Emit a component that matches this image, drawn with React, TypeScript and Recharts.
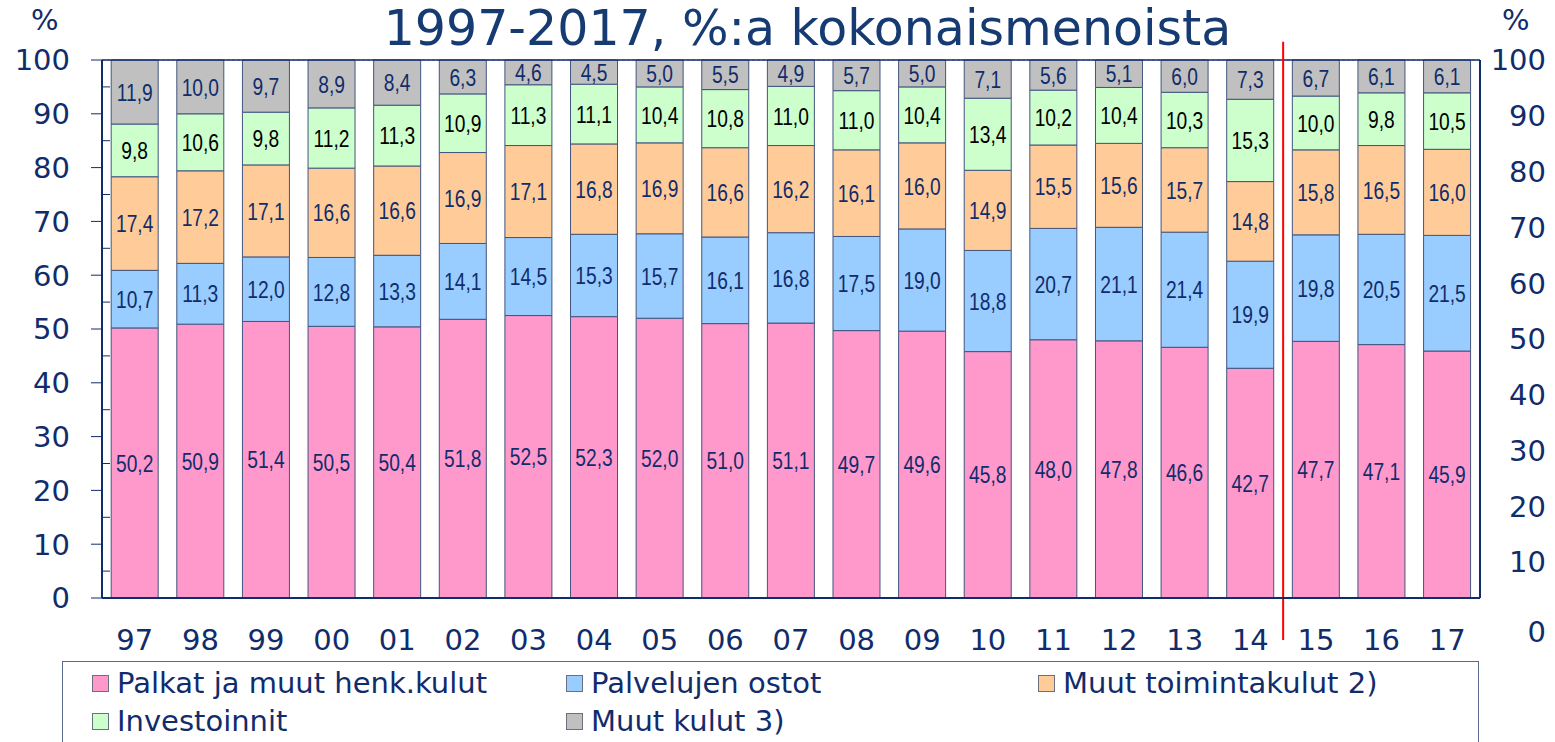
import React from 'react';
import {
  BarChart,
  Bar,
  XAxis,
  YAxis,
  CartesianGrid,
  LabelList,
  ReferenceLine,
} from 'recharts';

const NAVY = '#112c6b';

const YEARS = ['97', '98', '99', '00', '01', '02', '03', '04', '05', '06', '07', '08', '09', '10', '11', '12', '13', '14', '15', '16', '17'];

const PALKAT = [50.2, 50.9, 51.4, 50.5, 50.4, 51.8, 52.5, 52.3, 52.0, 51.0, 51.1, 49.7, 49.6, 45.8, 48.0, 47.8, 46.6, 42.7, 47.7, 47.1, 45.9];
const PALVELUT = [10.7, 11.3, 12.0, 12.8, 13.3, 14.1, 14.5, 15.3, 15.7, 16.1, 16.8, 17.5, 19.0, 18.8, 20.7, 21.1, 21.4, 19.9, 19.8, 20.5, 21.5];
const TOIMINTA = [17.4, 17.2, 17.1, 16.6, 16.6, 16.9, 17.1, 16.8, 16.9, 16.6, 16.2, 16.1, 16.0, 14.9, 15.5, 15.6, 15.7, 14.8, 15.8, 16.5, 16.0];
const INVESTOINNIT = [9.8, 10.6, 9.8, 11.2, 11.3, 10.9, 11.3, 11.1, 10.4, 10.8, 11.0, 11.0, 10.4, 13.4, 10.2, 10.4, 10.3, 15.3, 10.0, 9.8, 10.5];
const MUUT = [11.9, 10.0, 9.7, 8.9, 8.4, 6.3, 4.6, 4.5, 5.0, 5.5, 4.9, 5.7, 5.0, 7.1, 5.6, 5.1, 6.0, 7.3, 6.7, 6.1, 6.1];

const LEFT_TICKS = [0, 5, 10, 15, 20, 25, 30, 35, 40, 45, 50, 55, 60, 65, 70, 75, 80, 85, 90, 95, 100];
const GRID_TICKS = [10, 20, 30, 40, 50, 60, 70, 80, 90];
// right scale in the original is drawn a bit taller than the plot; 0 sits below it
const RIGHT_MIN = 3.55;
const RIGHT_TICKS = [RIGHT_MIN, 10, 20, 30, 40, 50, 60, 70, 80, 90, 100];
const BOUNDARY_TICKS = [...YEARS.map((_, i) => i), YEARS.length];
const FORECAST_START = 18;

const SERIES = [
  { key: 'palkat', name: 'Palkat ja muut henk.kulut', values: PALKAT, color: '#ff99cc', text: NAVY },
  { key: 'palvelut', name: 'Palvelujen ostot', values: PALVELUT, color: '#99ccff', text: NAVY },
  { key: 'toiminta', name: 'Muut toimintakulut 2)', values: TOIMINTA, color: '#ffcc99', text: NAVY },
  { key: 'investoinnit', name: 'Investoinnit', values: INVESTOINNIT, color: '#ccffcc', text: '#000000' },
  { key: 'muut', name: 'Muut kulut 3)', values: MUUT, color: '#c0c0c0', text: NAVY },
];

const data = YEARS.map((year, i) => {
  const row: Record<string, string | number> = { year, idx: i };
  SERIES.forEach((s) => {
    row[s.key] = s.values[i];
  });
  return row;
});

const AXIS_FONT = "'DejaVu Sans', Verdana, sans-serif";
const LABEL_FONT = "'Liberation Sans', Arial, sans-serif";

const fmt = (v: any) => (typeof v === 'number' ? v.toFixed(1).replace('.', ',') : v);

// Arial Narrow look-alike: squeeze Liberation Sans horizontally
const makeLabel = (color: string) => (props: any) => {
  const { x, y, width, height, value } = props;
  const cx = Number(x) + Number(width) / 2;
  const cy = Number(y) + Number(height) / 2;
  return (
    <text
      transform={`translate(${cx},${cy}) scale(0.8,1)`}
      textAnchor="middle"
      dy="0.36em"
      fill={color}
      fontSize={24}
      fontFamily={LABEL_FONT}
    >
      {fmt(value)}
    </text>
  );
};

const LeftTick = (props: any) => {
  const { x, y, payload } = props;
  const v = payload.value;
  if (v % 10 !== 0) {
    return <line x1={x} x2={x + 8} y1={y} y2={y} stroke={NAVY} strokeWidth={1} />;
  }
  return (
    <g>
      <line x1={x - 11} x2={x} y1={y} y2={y} stroke={NAVY} strokeWidth={1} />
      <text x={x - 32} y={y} dy="0.36em" textAnchor="end" fill={NAVY} fontSize={29} fontFamily={AXIS_FONT}>
        {v}
      </text>
    </g>
  );
};

const RightTick = (props: any) => {
  const { x, y, payload } = props;
  const v = payload.value;
  const isZero = v < 10;
  return (
    <text x={x + 66} y={isZero ? y + 34 : y} dy="0.36em" textAnchor="end" fill={NAVY} fontSize={29} fontFamily={AXIS_FONT}>
      {isZero ? 0 : v}
    </text>
  );
};

const emptyTick = () => <g />;

function LegendBox() {
  return (
    <div
      style={{
        position: 'absolute',
        left: 62,
        top: 661,
        width: 1417,
        height: 100,
        border: '1.5px solid #5a6a8c',
        boxSizing: 'border-box',
        paddingTop: 2,
        paddingLeft: 29,
        display: 'grid',
        gridTemplateColumns: '474px 472px 1fr',
        gridAutoRows: '38px',
        fontFamily: AXIS_FONT,
        fontSize: 29,
        color: NAVY,
      }}
    >
      {SERIES.map((s) => (
        <div key={s.key} style={{ display: 'flex', alignItems: 'center', lineHeight: '38px', whiteSpace: 'nowrap' }}>
          <span
            style={{
              display: 'inline-block',
              width: 15,
              height: 15,
              background: s.color,
              border: '1px solid #6b7080',
              marginRight: 8,
            }}
          />
          <span>{s.name}</span>
        </div>
      ))}
    </div>
  );
}

export default function App() {
  return (
    <div style={{ position: 'absolute', left: 0, top: 0, width: 1555, height: 742, background: '#fff', overflow: 'hidden' }}>
      <div
        style={{
          position: 'absolute',
          left: 0,
          width: 1555,
          paddingLeft: 60,
          boxSizing: 'border-box',
          top: 0,
          lineHeight: 'normal',
          textAlign: 'center',
          fontFamily: AXIS_FONT,
          fontSize: 49,
          color: '#163a72',
        }}
      >
        1997-2017, %:a kokonaismenoista
      </div>
      <div style={{ position: 'absolute', left: 31, top: 5, lineHeight: '30px', fontFamily: AXIS_FONT, fontSize: 29, color: NAVY }}>%</div>
      <div style={{ position: 'absolute', left: 1502, top: 5, lineHeight: '30px', fontFamily: AXIS_FONT, fontSize: 29, color: NAVY }}>%</div>

      <BarChart
        width={1555}
        height={742}
        data={data}
        margin={{ top: 60, right: 0, bottom: 84, left: 0 }}
        barCategoryGap="14%"
        style={{ position: 'absolute', left: 0, top: 0 }}
      >
        <CartesianGrid
          xAxisId="cat"
          yAxisId="grid"
          vertical={false}
          stroke="#8d9ab6"
          strokeDasharray="3 2"
        />
        <XAxis
          xAxisId="num"
          type="number"
          dataKey="idx"
          domain={[0, YEARS.length]}
          ticks={BOUNDARY_TICKS}
          height={0}
          axisLine={false}
          tickLine={{ stroke: NAVY, strokeWidth: 1 }}
          tickSize={10}
          tick={emptyTick}
          allowDataOverflow
        />
        <XAxis
          xAxisId="cat"
          dataKey="year"
          interval={0}
          height={60}
          axisLine={{ stroke: NAVY, strokeWidth: 2 }}
          tickLine={false}
          tickSize={0}
          tickMargin={31}
          tick={{ fill: NAVY, fontSize: 29, fontFamily: AXIS_FONT }}
        />
        <YAxis
          yAxisId="main"
          domain={[0, 100]}
          ticks={LEFT_TICKS}
          interval={0}
          width={102}
          axisLine={{ stroke: NAVY, strokeWidth: 2 }}
          tickLine={false}
          tickSize={0}
          tickMargin={0}
          tick={<LeftTick />}
        />
        <YAxis yAxisId="grid" hide width={0} domain={[0, 100]} ticks={GRID_TICKS} />
        <YAxis
          yAxisId="right"
          orientation="right"
          domain={[RIGHT_MIN, 100]}
          ticks={RIGHT_TICKS}
          interval={0}
          allowDataOverflow
          width={75}
          axisLine={{ stroke: NAVY, strokeWidth: 2 }}
          tickLine={false}
          tickSize={0}
          tickMargin={0}
          tick={<RightTick />}
        />
        {SERIES.map((s) => (
          <Bar
            key={s.key}
            xAxisId="cat"
            yAxisId="main"
            dataKey={s.key}
            name={s.name}
            stackId="a"
            fill={s.color}
            stroke="#42557e"
            strokeWidth={1}
            isAnimationActive={false}
          >
            <LabelList dataKey={s.key} position="center" content={makeLabel(s.text)} />
          </Bar>
        ))}
        <ReferenceLine xAxisId="cat" yAxisId="main" y={100} ifOverflow="visible" stroke={NAVY} strokeWidth={1.5} />
        <ReferenceLine
          xAxisId="num"
          yAxisId="main"
          ifOverflow="visible"
          segment={[
            { x: FORECAST_START, y: -7.8 },
            { x: FORECAST_START, y: 103.4 },
          ]}
          stroke="#ff0000"
          strokeWidth={2}
        />
      </BarChart>
      <LegendBox />
    </div>
  );
}
